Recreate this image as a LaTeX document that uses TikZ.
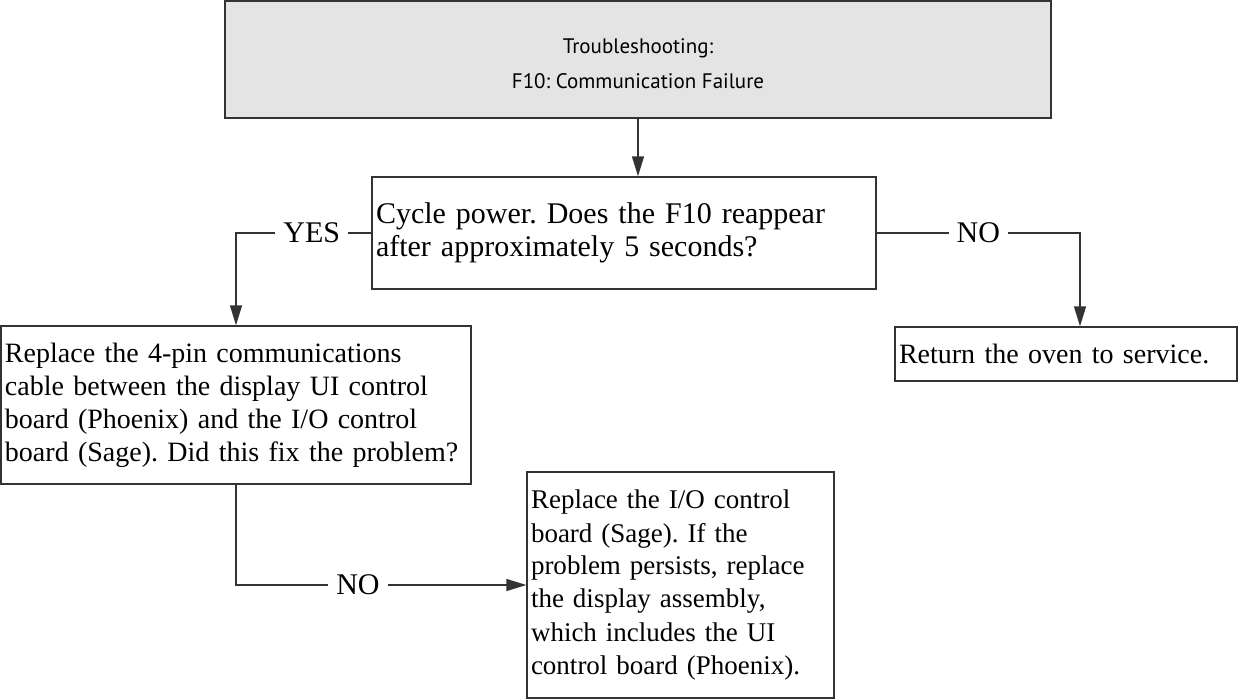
\documentclass[tikz,border=0pt]{standalone}
\usepackage{fontspec}
\setmainfont{Liberation Serif}
\newfontfamily\headfont{PT Sans}
\usetikzlibrary{arrows.meta,positioning}
\definecolor{boxline}{HTML}{333333}
\definecolor{headfill}{HTML}{E4E4E5}
\frenchspacing
\hyphenpenalty=10000
\tikzset{
  stepbox/.style={rectangle,draw=boxline,line width=1.4pt,fill=white,align=left,
    inner xsep=4pt,inner ysep=0pt,text=black,font=\fontsize{#1}{33}\selectfont},
  stepbox/.default={28},
  headbox/.style={rectangle,draw=boxline,line width=2pt,fill=headfill,align=center,
    text=black,font=\headfont\fontsize{21}{35}\selectfont},
  flow/.style={-{Triangle[length=20pt,width=12pt]},line width=1.4pt,draw=boxline},
  answer/.style={fill=white,inner xsep=8pt,inner ysep=2pt,text=black,
    font=\fontsize{30}{33}\selectfont},
}
\begin{document}
\begin{tikzpicture}[x=1pt,y=-1pt]
  \useasboundingbox (0,0) rectangle (1238,698);
  \node[headbox,minimum width=826pt,minimum height=117pt] (title) at (638,59.5)
    {\rule{0pt}{24pt}Troubleshooting:\\F10: Communication Failure};
  \node[stepbox=30,text width=496pt,minimum height=112pt] (cycle) at (624,233)
    {Cycle power. Does the F10 reappear\\after approximately 5 seconds?};
  \node[stepbox,text width=462pt,minimum height=158pt] (cable) at (236,405)
    {Replace the 4-pin communications\\cable between the display UI control\\board (Phoenix) and the I/O control\\board (Sage). Did this fix the problem?};
  \node[stepbox,text width=334pt,minimum height=54pt] (back) at (1066,354)
    {Return the oven to service.};
  \node[stepbox=27,text width=299pt,minimum height=226pt] (sage) at (680.5,585)
    {Replace the I/O control\\board (Sage). If the\\problem persists, replace\\the display assembly,\\which includes the UI\\control board (Phoenix).};
  \coordinate[xshift=14pt] (backin) at (back.north);
  \draw[flow] (title) -- (title |- cycle.north);
  \draw[flow] (cycle.west) -| (cable.north) node[answer,pos=0.22] {YES};
  \draw[flow] (cycle.east) -| (backin) node[answer,pos=0.25] {NO};
  \draw[flow] (cable.south) |- (sage.west) node[answer,pos=0.71] {NO};
\end{tikzpicture}
\end{document}
